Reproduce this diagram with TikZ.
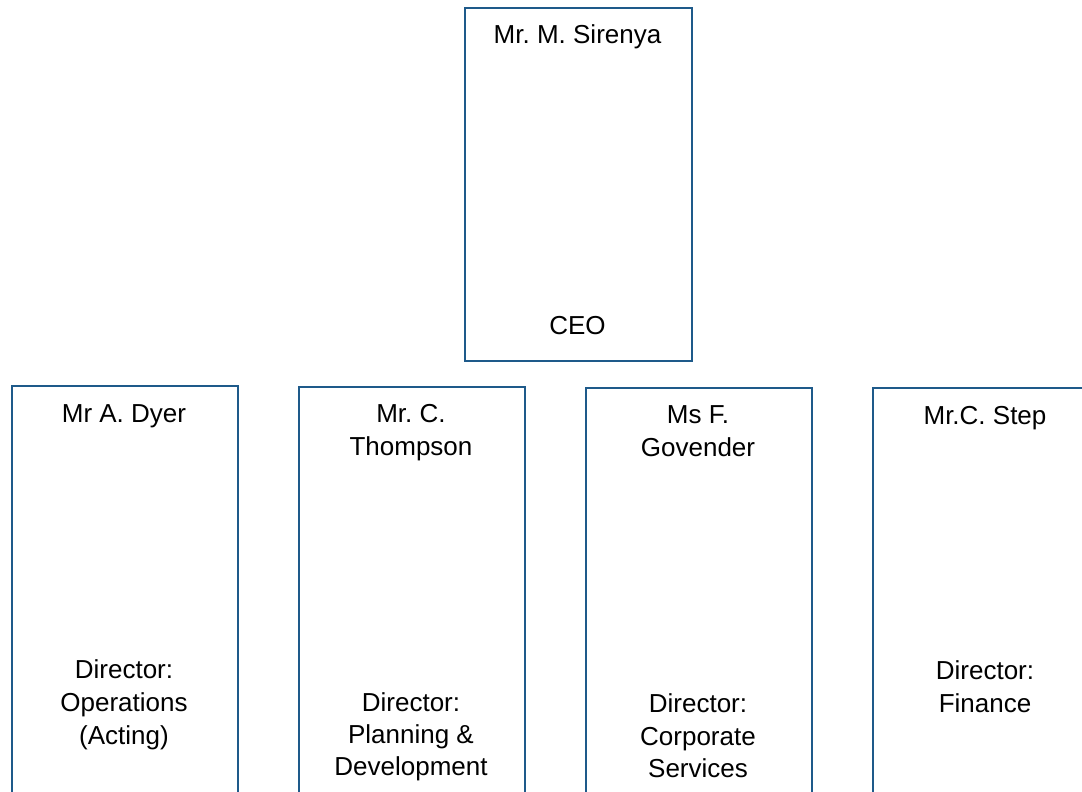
\documentclass[tikz,border=0pt]{standalone}
\usepackage{fontspec}
\setmainfont{Liberation Sans}
\frenchspacing
\definecolor{boxblue}{RGB}{30,90,138}
\begin{document}
\begin{tikzpicture}[x=1pt,y=-1pt,
  orgbox/.style={draw=boxblue, line width=2pt, fill=white, inner sep=0pt},
  lbl/.style={anchor=base, inner sep=0pt, font=\fontsize{26}{31}\selectfont\frenchspacing, text=black}]
\useasboundingbox (0,0) rectangle (1082,792);
\clip (0,0) rectangle (1082,792);
% boxes
\node[orgbox, minimum width=227pt, minimum height=353pt, anchor=north west] (ceo) at (464,7) {};
\node[orgbox, minimum width=226pt, minimum height=450pt, anchor=north west] (dyer) at (11,385) {};
\node[orgbox, minimum width=226pt, minimum height=450pt, anchor=north west] (thompson) at (298,386) {};
\node[orgbox, minimum width=226pt, minimum height=450pt, anchor=north west] (govender) at (585,387) {};
\node[orgbox, minimum width=227pt, minimum height=450pt, anchor=north west] (step) at (872,387) {};
% CEO
\node[lbl] (ceoName) at (577.5,44) {Mr. M. Sirenya};
\node[lbl] (ceoRole) at (577.5,334) {CEO};
% Dyer
\node[lbl] (dyerName) at (124,422) {Mr A. Dyer};
\node[lbl] (dyerR1) at (124,678) {Director:};
\node[lbl] (dyerR2) at (124,711) {Operations};
\node[lbl] (dyerR3) at (124,744) {(Acting)};
% Thompson
\node[lbl] (thName1) at (411,422) {Mr. C.};
\node[lbl] (thName2) at (411,455) {Thompson};
\node[lbl] (thR1) at (411,711) {Director:};
\node[lbl] (thR2) at (411,743) {Planning \&};
\node[lbl] (thR3) at (411,775) {Development};
% Govender
\node[lbl] (goName1) at (698,423) {Ms F.};
\node[lbl] (goName2) at (698,456) {Govender};
\node[lbl] (goR1) at (698,712) {Director:};
\node[lbl] (goR2) at (698,745) {Corporate};
\node[lbl] (goR3) at (698,777) {Services};
% Step
\node[lbl] (stName) at (985,424) {Mr.C. Step};
\node[lbl] (stR1) at (985,679) {Director:};
\node[lbl] (stR2) at (985,712) {Finance};
\end{tikzpicture}
\end{document}
